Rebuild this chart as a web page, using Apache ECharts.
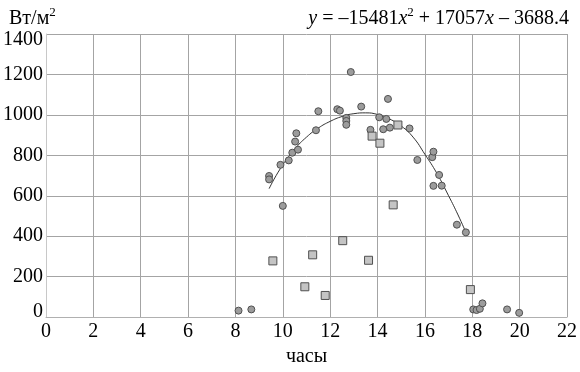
<!DOCTYPE html>
<html>
<head>
<meta charset="utf-8">
<script src="https://cdn.jsdelivr.net/npm/echarts@6/dist/echarts.min.js"></script>
<style>html,body{margin:0;padding:0;background:#fff}#c{width:580px;height:372px}</style>
</head>
<body>
<div id="c"></div>
<script>
// x axis ticks (hours) and y ticks
var xTicks = [0, 2, 4, 6, 8, 10, 12, 14, 16, 18, 20, 22];
var yTicks = [0, 200, 400, 600, 800, 1000, 1200, 1400];
var xName = 'часы';
var yUnit = 'Вт/м';

// measured points (circles): [hour, W/m2]
var circlePoints = [
  [8.13, 32], [8.67, 38], [9.42, 698], [9.42, 681], [9.90, 753], [10.00, 550],
  [10.25, 775], [10.40, 813], [10.52, 868], [10.57, 909], [10.64, 828],
  [11.40, 924], [11.50, 1018], [12.30, 1028], [12.41, 1021], [12.68, 985],
  [12.68, 970], [12.68, 951], [12.87, 1212], [13.31, 1041], [13.70, 926],
  [14.07, 988], [14.24, 929], [14.37, 980], [14.44, 1079], [14.52, 937],
  [15.35, 933], [15.68, 777], [16.31, 791], [16.36, 818], [16.36, 649],
  [16.60, 703], [16.71, 650], [17.35, 457], [17.73, 419], [18.04, 38],
  [18.18, 35], [18.32, 41], [18.43, 68], [19.47, 38], [19.98, 21]
];
// measured points (squares)
var squarePoints = [
  [9.58, 278], [10.93, 150], [11.26, 308], [11.79, 107], [12.53, 378],
  [13.62, 281], [13.77, 895], [14.10, 860], [14.66, 555], [14.86, 950], [17.92, 136]
];
// trend curve
var trendPoints = [
  [9.42, 635], [9.9, 735], [10.5, 830], [11.0, 890], [11.5, 935], [12.0, 968],
  [12.5, 992], [13.0, 1006], [13.5, 1010], [14.0, 1002], [14.5, 980], [15.0, 945],
  [15.5, 890], [16.0, 805], [16.5, 712], [17.0, 600], [17.4, 505], [17.73, 419]
];

var FONT = 'Liberation Serif';
var FS = 20;
var yMin = yTicks[0], yMax = yTicks[yTicks.length - 1];
var chart = echarts.init(document.getElementById('c'), null, {renderer: 'canvas'});
chart.setOption({
  animation: false,
  backgroundColor: '#fff',
  textStyle: {fontFamily: FONT},
  title: [
    {
      text: yUnit + '{sup|2}',
      left: 4, top: 1,
      textStyle: {
        fontFamily: FONT, fontSize: FS, fontWeight: 'normal', color: '#000', lineHeight: 26,
        rich: {sup: {fontFamily: FONT, fontSize: 13, verticalAlign: 'top', lineHeight: 12, color: '#000'}}
      }
    },
    {
      text: '{i|y} = –15481{i|x}{sup|2} + 17057{i|x} – 3688.4',
      right: 6, top: 1,
      textStyle: {
        fontFamily: FONT, fontSize: FS, fontWeight: 'normal', color: '#000', lineHeight: 26,
        rich: {
          i: {fontFamily: FONT, fontSize: FS, fontStyle: 'italic', color: '#000', lineHeight: 26},
          sup: {fontFamily: FONT, fontSize: 13, verticalAlign: 'top', lineHeight: 12, color: '#000'}
        }
      }
    }
  ],
  grid: {left: 43, right: 8, top: 34, bottom: 45, containLabel: false},
  xAxis: {
    type: 'value', min: xTicks[0], max: xTicks[xTicks.length - 1], interval: 2,
    name: xName, nameLocation: 'middle', nameGap: 17,
    nameTextStyle: {fontFamily: FONT, fontSize: FS, color: '#000'},
    axisLine: {show: true, lineStyle: {color: '#b0b0b0', width: 1}},
    axisTick: {show: false},
    axisLabel: {fontFamily: FONT, fontSize: FS, color: '#000', margin: 5},
    splitLine: {show: true, lineStyle: {color: '#a4a4a4', width: 1}}
  },
  yAxis: {
    type: 'value', min: yMin, max: yMax, interval: 200,
    axisLine: {show: true, lineStyle: {color: '#c8c8c8', width: 1}},
    axisTick: {show: false},
    axisLabel: {
      fontFamily: FONT, fontSize: FS, color: '#000', margin: 3,
      formatter: function (v) {
        if (v === yMin) return '{lo|' + v + '}';
        if (v === yMax) return '{hi|' + v + '}';
        return String(v);
      },
      rich: {
        lo: {fontFamily: FONT, fontSize: FS, color: '#000', padding: [0, 0, 10, 0]},
        hi: {fontFamily: FONT, fontSize: FS, color: '#000', padding: [12, 0, 0, 0]}
      }
    },
    splitLine: {show: true, lineStyle: {color: '#a4a4a4', width: 1}}
  },
  series: [
    {
      type: 'line', data: trendPoints, smooth: true, showSymbol: false,
      lineStyle: {color: '#333', width: 1}, z: 2, silent: true
    },
    {
      type: 'scatter', data: circlePoints, symbol: 'circle', symbolSize: 7,
      itemStyle: {color: '#9c9c9c', borderColor: '#505050', borderWidth: 1, opacity: 1}, z: 3
    },
    {
      type: 'scatter', data: squarePoints, symbol: 'rect', symbolSize: 8,
      itemStyle: {color: '#c4c4c4', borderColor: '#505050', borderWidth: 1, opacity: 1}, z: 3
    }
  ]
});
</script>
</body>
</html>
